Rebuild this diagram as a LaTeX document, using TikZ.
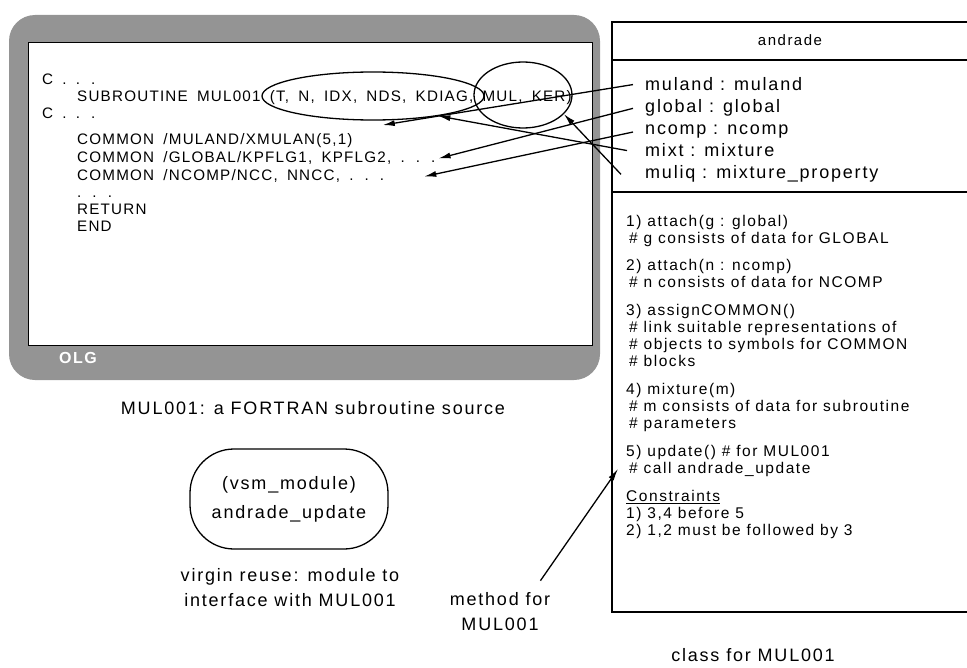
\documentclass[tikz,border=0pt]{standalone}
\usepackage{fontspec}
\setmainfont{Liberation Sans}[LetterSpace=10]
\newfontfamily\codefont{Liberation Sans}[LetterSpace=8,WordSpace=1.7]
\usetikzlibrary{arrows.meta,shapes.geometric,calc}
\begin{document}
\begin{tikzpicture}[x=1bp,y=-1bp,
  code/.style={anchor=base west,inner sep=0pt,font=\codefont\fontsize{15.2bp}{17bp}\selectfont},
  attr/.style={anchor=base west,inner sep=0pt,align=left,font=\fontsize{18bp}{22bp}\selectfont},
  meth/.style={anchor=north west,inner sep=0pt,align=left,font=\fontsize{15.5bp}{17bp}\selectfont},
  capt/.style={inner sep=0pt,align=center,font=\fontsize{18bp}{25bp}\selectfont},
  link/.style={line width=1.3bp,-{Latex[length=12bp,width=6bp]}},
  ring/.style={line width=1.3bp},
  boxline/.style={line width=1.2bp}]
\useasboundingbox (0,0) rectangle (967,668);
% monitor
\fill[black!42,rounded corners=26bp] (9,15) rectangle (600,380);
\filldraw[fill=white,draw=black,line width=1bp] (28,43) rectangle (592,345);
\node[inner sep=0pt,text=white,font=\fontsize{16bp}{16bp}\selectfont\bfseries] (olg) at (78,358) {OLG};
% code
\node[code] (c1) at (42,85) {C . . .};
\node[code] (sub) at (77,102) {SUBROUTINE MUL001 (T, N, IDX, NDS, KDIAG, MUL, KER)};
\node[code] (c2) at (42,119) {C . . .};
\node[code] (lmul) at (77,145) {COMMON /MULAND/XMULAN(5,1)};
\node[code] (lglo) at (77,163) {COMMON /GLOBAL/KPFLG1, KPFLG2, . . .};
\node[code] (lnco) at (77,181) {COMMON /NCOMP/NCC, NNCC, . . .};
\node[code] (ldot) at (77,197) {. . .};
\node[code] (lret) at (77,214) {RETURN};
\node[code] (lend) at (77,231) {END};
% ellipses
\node[draw,ellipse,ring,minimum width=222bp,minimum height=48bp,inner sep=0pt] (ell) at (373,96) {};
\node[draw,ellipse,ring,minimum width=98bp,minimum height=66bp,inner sep=0pt] (cir) at (523,95) {};
% class box
\draw[boxline] (967,22) -- (612,22) -- (612,612) -- (967,612);
\draw[boxline] (612,60) -- (967,60);
\draw[boxline] (612,192) -- (967,192);
\node[capt,font=\fontsize{15bp}{18bp}\selectfont] (cls) at (790,40) {andrade};
\node[attr] (amul) at (645,91) {muland : muland};
\node[attr] (aglo) at (645,113) {global : global};
\node[attr] (anco) at (645,135) {ncomp : ncomp};
\node[attr] (amix) at (645,157) {mixt : mixture};
\node[attr] (aliq) at (645,179) {muliq : mixture\_property};
\node[meth] (meth) at (626,215) {1) attach(g : global)\\
\hspace*{3bp}\# g consists of data for GLOBAL\\[10bp]
2) attach(n : ncomp)\\
\hspace*{3bp}\# n consists of data for NCOMP\\[11bp]
3) assignCOMMON()\\
\hspace*{3bp}\# link suitable representations of\\
\hspace*{3bp}\# objects to symbols for COMMON\\
\hspace*{3bp}\# blocks\\[11bp]
4) mixture(m)\\
\hspace*{3bp}\# m consists of data for subroutine\\
\hspace*{3bp}\# parameters\\[11bp]
5) update() \# for MUL001\\
\hspace*{3bp}\# call andrade\_update\\[11bp]
\underline{Constraints}\\
1) 3,4 before 5\\
2) 1,2 must be followed by 3};
% connectors
\coordinate (tMul) at ($(lmul.east)+(30,-16)$);
\coordinate (tGlo) at ($(lglo.east)+(3,0)$);
\coordinate (tNco) at ($(lnco.east)+(40,0)$);
\draw[link] ([xshift=-12bp]amul.west) -- (tMul);
\draw[link] ([xshift=-12bp]aglo.west) -- (tGlo);
\draw[link] ([xshift=-12bp]anco.west) -- (tNco);
\draw[link] ([xshift=-18bp]amix.west) -- (ell.-17);
\draw[link] ([xshift=-24bp]aliq.west) -- (cir.-25);
% captions
\node[capt] (mcap) at (313,408) {MUL001: a FORTRAN subroutine source};
\node[draw,line width=1.3bp,rounded corners=44bp,minimum width=198bp,minimum height=100bp,align=center,font=\fontsize{18bp}{29bp}\selectfont] (vsm) at (289,499) {(vsm\_module)\\andrade\_update};
\node[capt] (virgin) at (290,588) {virgin reuse: module to\\interface with MUL001};
\node[capt] (mfor) at (500,612) {method for\\MUL001};
\coordinate (tCall) at (618,469);
\draw[link] ($(mfor.north east)+(-10,-12)$) -- (tCall);
\node[capt] (ccap) at (753,655) {class for MUL001};
\end{tikzpicture}
\end{document}
